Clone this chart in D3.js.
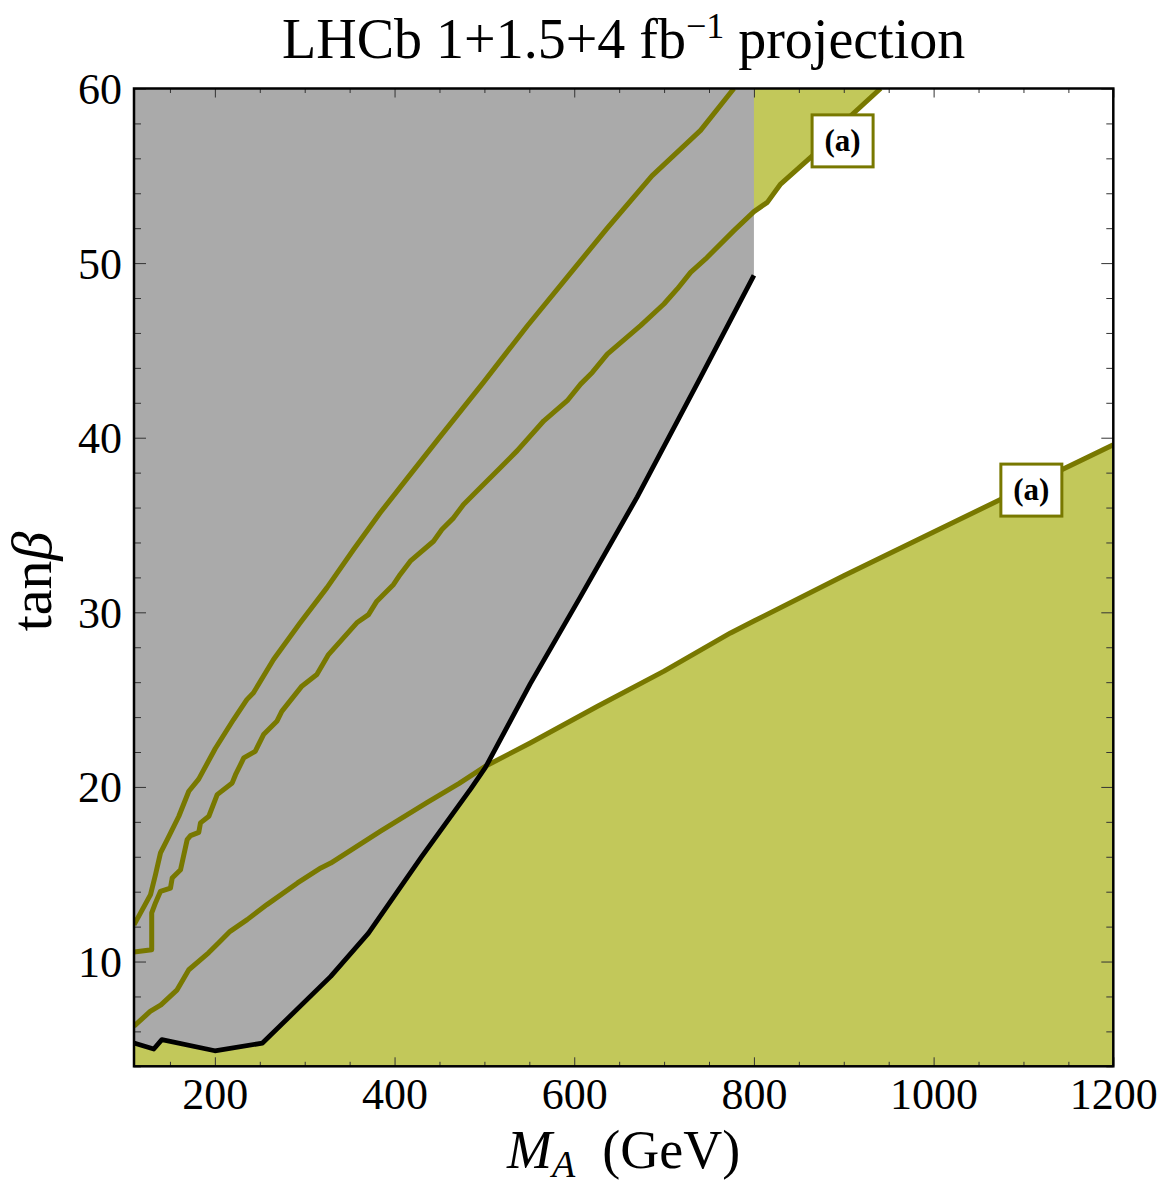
<!DOCTYPE html>
<html>
<head>
<meta charset="utf-8">
<script src="https://cdn.jsdelivr.net/npm/d3@7"></script>
<style>
  html, body { margin: 0; padding: 0; background: #ffffff; }
  svg { display: block; }
  text { font-family: "Liberation Serif", "DejaVu Serif", serif; fill: #000; }
</style>
</head>
<body>
<svg id="chart" width="1164" height="1184"></svg>
<script>
// ---------------- data ----------------
const title = "LHCb 1+1.5+4 fb";
const titleSup = "\u22121";
const titleTail = " projection";

const xMajorTicks = [200, 400, 600, 800, 1000, 1200];
const yMajorTicks = [10, 20, 30, 40, 50, 60];

// black LHCb exclusion boundary (gray region above it, for M_A <= 800)
const boundaryM    = [110, 132, 141, 200, 253, 329, 371, 430, 485, 501, 551, 607, 670, 740, 800];
const boundaryTanb = [5.33, 4.99, 5.53, 4.89, 5.33, 9.15, 11.63, 16.0, 19.9, 21.1, 25.9, 30.9, 36.6, 43.4, 49.3];

// contour (a), lower branch: region below is excluded (olive fill)
const lowerM    = [110, 128, 140, 158, 171, 193, 204, 217, 236, 258, 292, 318, 329, 384, 436, 472, 501, 551, 626, 700, 774, 800, 900, 1000, 1100, 1200];
const lowerTanb = [6.3, 7.14, 7.52, 8.38, 9.53, 10.5, 11.06, 11.73, 12.4, 13.26, 14.5, 15.36, 15.64, 17.45, 19.1, 20.2, 21.18, 22.52, 24.62, 26.63, 28.82, 29.5, 32.1, 34.6, 37.1, 39.6];

// contour (a), upper branch: region above is excluded (olive fill)
const upperM    = [110, 129.7, 129.7, 134, 139.5, 150.6, 152.5, 161.8, 169.2, 172.9, 182.1, 184, 193.3, 202.6, 219.3, 223, 232.2, 244.9, 254.2, 269, 274.5, 296.8, 313.5, 326.5, 358, 371, 380.3, 391.4, 398.9, 406.3, 417.5, 443.4, 452.7, 465.7, 476.8, 497.6, 518, 536.6, 566.2, 592.2, 607.1, 620.1, 636.8, 673.8, 699.8, 714.7, 729.5, 746.2, 777.7, 800, 814.9, 829.7, 865, 905.7, 941];
const upperTanb = [10.55, 10.68, 12.78, 13.37, 14.02, 14.21, 14.78, 15.26, 16.98, 17.21, 17.4, 17.94, 18.32, 19.56, 20.23, 20.7, 21.66, 22.04, 23.0, 23.76, 24.33, 25.77, 26.44, 27.58, 29.4, 29.87, 30.64, 31.21, 31.6, 32.17, 32.93, 34.07, 34.74, 35.41, 36.18, 37.25, 38.3, 39.26, 40.97, 42.12, 43.07, 43.74, 44.79, 46.42, 47.66, 48.52, 49.47, 50.24, 51.86, 52.95, 53.48, 54.53, 56.14, 58.34, 60];

// further contour inside the gray region
const thirdM    = [110, 128.4, 133.9, 139.5, 147, 159.9, 171, 182, 200.5, 220.8, 235.6, 243, 265.3, 295, 324.6, 354.4, 384, 413, 449, 475, 499.4, 547.7, 592.2, 636.8, 686.5, 740.6, 777.7];
const thirdTanb = [12.1, 13.83, 14.97, 16.22, 16.98, 18.32, 19.75, 20.45, 22.2, 23.86, 25.0, 25.39, 27.3, 29.4, 31.4, 33.6, 35.7, 37.6, 39.95, 41.62, 43.2, 46.4, 49.2, 52.0, 55.0, 57.6, 60];

// contour labels
const labelText = ["(a)", "(a)"];
const labelM    = [898.7, 1108.8];
const labelTanb = [57.0, 37.0];

const grayLimitM = 800;   // gray region stops at M_A = 800 GeV

// ---------------- drawing ----------------
const svg = d3.select("#chart");
const X0 = 134, X1 = 1113.3, Y0 = 88.5, Y1 = 1066.3;
const xMin = 110, xMax = 1200, yMin = 4, yMax = 60;
const x = d3.scaleLinear().domain([xMin, xMax]).range([X0, X1]);
const y = d3.scaleLinear().domain([yMin, yMax]).range([Y1, Y0]);

const OLIVE_FILL = "#c2c85a";
const OLIVE_LINE = "#787800";
const GRAY = "#aaaaaa";

const zip = (a, b) => a.map((v, i) => [v, b[i]]);
const boundary = zip(boundaryM, boundaryTanb);
const lower = zip(lowerM, lowerTanb);
const upper = zip(upperM, upperTanb);
const third = zip(thirdM, thirdTanb);

svg.append("defs").append("clipPath").attr("id", "plotclip")
  .append("rect").attr("x", X0).attr("y", Y0).attr("width", X1 - X0).attr("height", Y1 - Y0);

const plot = svg.append("g").attr("clip-path", "url(#plotclip)");
const line = d3.line().x(d => x(d[0])).y(d => y(d[1]));

// olive fill below the lower branch
const area = d3.area().x(d => x(d[0])).y0(y(yMin)).y1(d => y(d[1]));
plot.append("path").datum(lower).attr("d", area).attr("fill", OLIVE_FILL);

// olive fill above the upper branch
const upperPoly = upper.concat([[xMin, yMax]]);
plot.append("path").attr("d", line(upperPoly) + "Z").attr("fill", OLIVE_FILL);

// gray LHCb region
const grayPoly = boundary.concat([[grayLimitM, yMax], [xMin, yMax]]);
plot.append("path").attr("d", line(grayPoly) + "Z").attr("fill", GRAY);

// contour lines
[lower, upper, third].forEach(d => {
  plot.append("path").datum(d).attr("d", line)
    .attr("fill", "none").attr("stroke", OLIVE_LINE).attr("stroke-width", 5)
    .attr("stroke-linejoin", "round");
});
plot.append("path").datum(boundary).attr("d", line)
  .attr("fill", "none").attr("stroke", "#000").attr("stroke-width", 4.8)
  .attr("stroke-linejoin", "round");

// labels
labelText.forEach((t, i) => {
  const cx = x(labelM[i]), cy = y(labelTanb[i]);
  const g = svg.append("g");
  g.append("rect").attr("x", cx - 30.5).attr("y", cy - 26).attr("width", 61).attr("height", 52)
    .attr("fill", "#fff").attr("stroke", OLIVE_LINE).attr("stroke-width", 3);
  g.append("text").attr("x", cx).attr("y", cy + 10).attr("text-anchor", "middle")
    .attr("font-size", 31).attr("font-weight", "bold").text(t);
});

// axes: ticks on all four sides pointing inwards
const range = (a, b, s) => d3.range(a, b + 1e-9, s);
const xMinor = range(150, 1150, 50).filter(v => v % 200 !== 0);
const yMinor = range(4, 58, 2).filter(v => v % 10 !== 0);

function styleAxis(g) {
  g.select(".domain").remove();
  g.selectAll(".tick line").attr("stroke", "#333").attr("stroke-width", 1);
}
const fmt = d3.format("d");

svg.append("g").attr("transform", `translate(0,${Y1})`)
  .call(d3.axisBottom(x).tickValues(xMajorTicks).tickSize(-9).tickPadding(11).tickFormat(fmt))
  .call(styleAxis)
  .call(g => g.selectAll("text").attr("font-size", 44).attr("font-family", "Liberation Serif").attr("fill", "#000"));
svg.append("g").attr("transform", `translate(0,${Y1})`)
  .call(d3.axisBottom(x).tickValues(xMinor).tickSize(-4.5).tickFormat("")).call(styleAxis);
svg.append("g").attr("transform", `translate(0,${Y0})`)
  .call(d3.axisTop(x).tickValues(xMajorTicks).tickSize(-9).tickFormat("")).call(styleAxis);
svg.append("g").attr("transform", `translate(0,${Y0})`)
  .call(d3.axisTop(x).tickValues(xMinor).tickSize(-4.5).tickFormat("")).call(styleAxis);

svg.append("g").attr("transform", `translate(${X0},0)`)
  .call(d3.axisLeft(y).tickValues(yMajorTicks).tickSize(-12).tickPadding(12).tickFormat(fmt))
  .call(styleAxis)
  .call(g => g.selectAll("text").attr("font-size", 44).attr("font-family", "Liberation Serif").attr("fill", "#000").attr("dy", "0.34em"));
svg.append("g").attr("transform", `translate(${X0},0)`)
  .call(d3.axisLeft(y).tickValues(yMinor).tickSize(-7).tickFormat("")).call(styleAxis);
svg.append("g").attr("transform", `translate(${X1},0)`)
  .call(d3.axisRight(y).tickValues(yMajorTicks).tickSize(-12).tickFormat("")).call(styleAxis);
svg.append("g").attr("transform", `translate(${X1},0)`)
  .call(d3.axisRight(y).tickValues(yMinor).tickSize(-7).tickFormat("")).call(styleAxis);

// frame
svg.append("rect").attr("x", X0).attr("y", Y0).attr("width", X1 - X0).attr("height", Y1 - Y0)
  .attr("fill", "none").attr("stroke", "#000").attr("stroke-width", 2.5);

// title
const tt = svg.append("text").attr("x", (X0 + X1) / 2).attr("y", 58)
  .attr("text-anchor", "middle").attr("font-size", 56);
tt.append("tspan").text(title);
tt.append("tspan").attr("font-size", 36).attr("dy", -20).text(titleSup);
tt.append("tspan").attr("dy", 20).text(titleTail);

// x-axis label
const xl = svg.append("text").attr("x", (X0 + X1) / 2).attr("y", 1168)
  .attr("text-anchor", "middle").attr("font-size", 54);
xl.append("tspan").attr("font-style", "italic").text("M");
xl.append("tspan").attr("font-style", "italic").attr("font-size", 38).attr("dy", 9).text("A");
xl.append("tspan").attr("dy", -9).text("\u2002(GeV)");

// y-axis label
const yl = svg.append("text").attr("transform", `translate(51,${(Y0 + Y1) / 2 + 4}) rotate(-90)`)
  .attr("text-anchor", "middle").attr("font-size", 58);
yl.append("tspan").text("tan");
yl.append("tspan").attr("font-style", "italic").text("\u03b2");
</script>
</body>
</html>
